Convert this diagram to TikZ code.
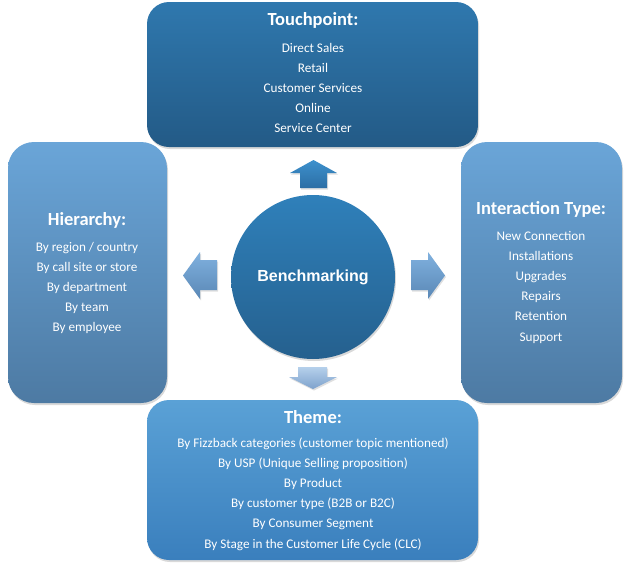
\documentclass[tikz,border=0pt]{standalone}
\usepackage{fontspec}
\usepackage{xcolor}
\setmainfont{Carlito}
\newfontfamily\hubfont{Liberation Sans}
\usetikzlibrary{shadows}
\definecolor{touchtop}{HTML}{2F78AE}
\definecolor{touchbot}{HTML}{235A86}
\definecolor{sidetop}{HTML}{6AA5D8}
\definecolor{sidebot}{HTML}{4D7AA3}
\definecolor{themetop}{HTML}{5AA1D6}
\definecolor{themebot}{HTML}{3A7FBD}
\definecolor{hubtop}{HTML}{2F80BA}
\definecolor{hubbot}{HTML}{25608E}
\definecolor{uptop}{HTML}{3D91CD}
\definecolor{upbot}{HTML}{2C6EA5}
\definecolor{lrtop}{HTML}{80B1DF}
\definecolor{lrbot}{HTML}{5A88B6}
\definecolor{dntop}{HTML}{B5D0EB}
\definecolor{dnbot}{HTML}{7EA2CC}

\begin{document}
\begin{tikzpicture}[x=1pt,y=-1pt,
  panel/.style={rectangle,draw=none,
    drop shadow={opacity=0.3,shadow xshift=1pt,shadow yshift=-2pt}},
  heading/.style={text=white,font=\bfseries\fontsize{18.5}{20}\selectfont},
  entries/.style={text=white,align=center,font=\fontsize{13.2}{20.2}\selectfont},
  pointer/.style={drop shadow={opacity=0.25,shadow xshift=1pt,shadow yshift=-1.5pt}}]
\useasboundingbox (0,0) rectangle (630,568);
% top box
\node[panel,rounded corners=22pt,minimum width=331pt,minimum height=145pt,
  top color=touchtop,bottom color=touchbot] (touch) at (312.5,74.5) {};
\node[heading] (touchhead) at (313,20) {Touchpoint:};
\node[entries] (touchlist) at (313,88) {Direct Sales\\Retail\\Customer Services\\Online\\Service Center};
% left box
\node[panel,rounded corners=26pt,minimum width=159pt,minimum height=261pt,
  top color=sidetop,bottom color=sidebot] (hier) at (87.5,272.5) {};
\node[heading] (hierhead) at (87,220) {Hierarchy:};
\node[entries] (hierlist) at (87,288) {By region / country\\By call site or store\\By department\\By team\\By employee};
% right box
\node[panel,rounded corners=26pt,minimum width=161pt,minimum height=261pt,
  top color=sidetop,bottom color=sidebot] (inter) at (541.5,272.5) {};
\node[heading] (interhead) at (541,209) {Interaction Type:};
\node[entries] (interlist) at (541,287) {New Connection\\Installations\\Upgrades\\Repairs\\Retention\\Support};
% bottom box
\node[panel,rounded corners=22pt,minimum width=331pt,minimum height=160pt,
  top color=themetop,bottom color=themebot] (theme) at (312.5,480) {};
\node[heading] (themehead) at (313,417) {Theme:};
\node[entries] (themelist) at (313,494) {By Fizzback categories (customer topic mentioned)\\By USP (Unique Selling proposition)\\By Product\\By customer type (B2B or B2C)\\By Consumer Segment\\By Stage in the Customer Life Cycle (CLC)};
% centre
\node[circle,minimum size=164pt,top color=hubtop,bottom color=hubbot,
  drop shadow={opacity=0.3,shadow xshift=1pt,shadow yshift=-2pt},
  text=white,font=\hubfont\bfseries\fontsize{16}{18}\selectfont] (bench) at (313,277) {Benchmarking};
% block arrows
\path[pointer,top color=uptop,bottom color=upbot]
  (300,188) -- (300,173) -- (290,173) -- (313.5,160) -- (337,173) -- (327,173) -- (327,188) -- cycle;
\path[pointer,top color=lrtop,bottom color=lrbot]
  (217,260) -- (200,260) -- (200,252) -- (183,275.5) -- (200,299) -- (200,290) -- (217,290) -- cycle;
\path[pointer,top color=lrtop,bottom color=lrbot]
  (411,260) -- (428,260) -- (428,252) -- (445,275.5) -- (428,299) -- (428,290) -- (411,290) -- cycle;
\path[pointer,top color=dntop,bottom color=dnbot]
  (298,367) -- (327,367) -- (327,377) -- (337,377) -- (313,389) -- (289,377) -- (298,377) -- cycle;
\end{tikzpicture}
\end{document}
